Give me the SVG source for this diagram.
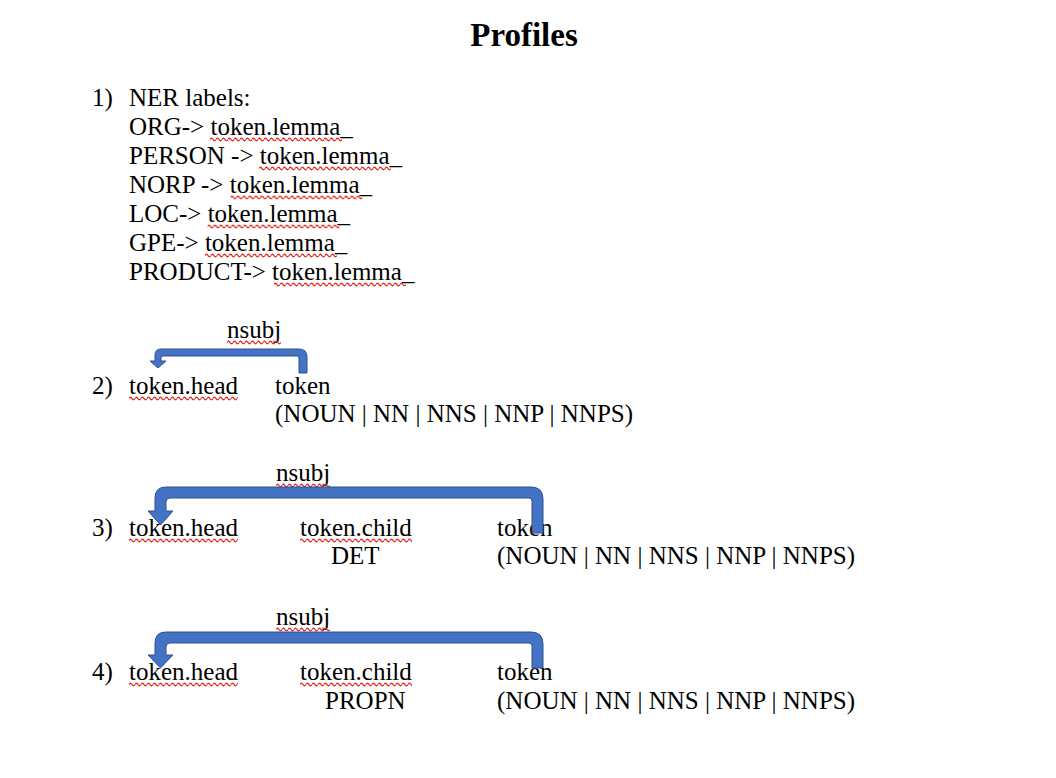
<svg xmlns="http://www.w3.org/2000/svg" width="1056" height="778" viewBox="0 0 1056 778">
<style>
text{font-family:"Liberation Serif","Times New Roman",serif;font-size:25px;fill:#000}
.title{font-size:33px;font-weight:bold}
.arr{fill:#4472C4;stroke:#2F528F;stroke-width:1}
.sq{fill:url(#wave)}
</style>
<defs>
<pattern id="wave" patternUnits="userSpaceOnUse" width="6" height="5">
<path d="M0 2.5 Q1.5 0 3 2.5 T6 2.5" fill="none" stroke="#E3261E" stroke-width="1.3"/>
</pattern>
</defs>
<rect width="1056" height="778" fill="#fff"/>
<g id="title"><text class="title" x="524" y="46" text-anchor="middle">Profiles</text></g>
<g id="item1">
<text x="92" y="106">1)</text>
<text x="129" y="106">NER labels:</text>
<text x="129" y="135">ORG-&gt; token.lemma_</text>
<rect class="sq" width="132" height="5" transform="translate(210,137)"/>
<text x="129" y="164">PERSON -&gt; token.lemma_</text>
<rect class="sq" width="132" height="5" transform="translate(259,166)"/>
<text x="129" y="193">NORP -&gt; token.lemma_</text>
<rect class="sq" width="132" height="5" transform="translate(230.5,195)"/>
<text x="129" y="222">LOC-&gt; token.lemma_</text>
<rect class="sq" width="132" height="5" transform="translate(207.5,224)"/>
<text x="129" y="251">GPE-&gt; token.lemma_</text>
<rect class="sq" width="132" height="5" transform="translate(205,253)"/>
<text x="129" y="280">PRODUCT-&gt; token.lemma_</text>
<rect class="sq" width="132" height="5" transform="translate(274,282)"/>
</g>
<g id="item2">
<text x="92" y="394">2)</text>
<g id="head2"><text x="129" y="394">token.head</text><rect class="sq" width="109" height="5" transform="translate(129,396)"/></g>
<g id="token2"><text x="275" y="394">token</text><text x="275" y="422">(NOUN | NN | NNS | NNP | NNPS)</text></g>
<g id="label2"><text x="227" y="338">nsubj</text><rect class="sq" width="54" height="5" transform="translate(227,340)"/></g>
</g>
<g id="item3">
<text x="92" y="536">3)</text>
<g id="head3"><text x="129" y="536">token.head</text><rect class="sq" width="109" height="5" transform="translate(129,538)"/></g>
<g id="child3"><text x="300" y="536">token.child</text><rect class="sq" width="112" height="5" transform="translate(300,538)"/><text x="331" y="564">DET</text></g>
<g id="token3"><text x="497" y="536">token</text><text x="497" y="564">(NOUN | NN | NNS | NNP | NNPS)</text></g>
<g id="label3"><text x="276" y="481">nsubj</text><rect class="sq" width="54" height="5" transform="translate(276,483)"/></g>
</g>
<g id="item4">
<text x="92" y="680">4)</text>
<g id="head4"><text x="129" y="680">token.head</text><rect class="sq" width="109" height="5" transform="translate(129,682)"/></g>
<g id="child4"><text x="300" y="680">token.child</text><rect class="sq" width="112" height="5" transform="translate(300,682)"/><text x="325" y="709">PROPN</text></g>
<g id="token4"><text x="497" y="680">token</text><text x="497" y="709">(NOUN | NN | NNS | NNP | NNPS)</text></g>
<g id="label4"><text x="276" y="625">nsubj</text><rect class="sq" width="54" height="5" transform="translate(276,627)"/></g>
</g>
<g id="connectors">
<path class="arr" d="M307 373 L307 357 Q307 349 299 349 L161 349 Q155 349 155 355 L155 361 L150 361 L158 368 L166 361 L161 361 L161 358 Q161 356 163 356 L297 356 Q299 356 299 358 L299 373 Z"/>
<path class="arr" d="M543 533 L543 499 Q543 487 531 487 L166 487 Q155 487 155 498 L155 511 L148 511 L160.5 525 L173 511 L166 511 L166 502 Q166 498 170 498 L529 498 Q532 498 532 501 L532 533 Z"/>
<path class="arr" d="M543 668 L543 644 Q543 632 531 632 L166 632 Q155 632 155 643 L155 655 L148 655 L160.5 668 L173 655 L166 655 L166 647 Q166 643 170 643 L529 643 Q532 643 532 646 L532 668 Z"/>
</g>
</svg>
